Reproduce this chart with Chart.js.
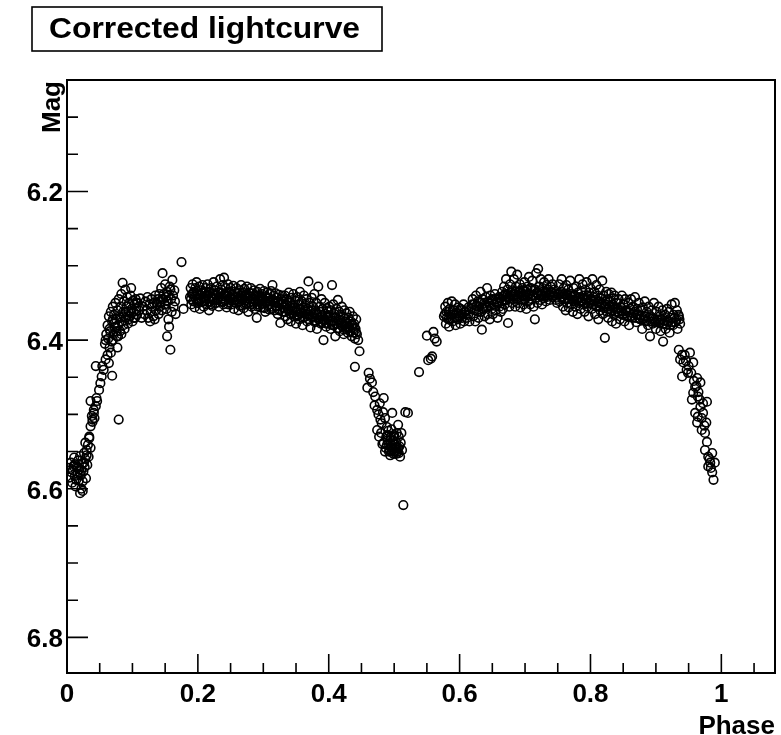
<!DOCTYPE html>
<html>
<head>
<meta charset="utf-8">
<script src="https://cdn.jsdelivr.net/npm/chart.js@4"></script>
<style>
  html, body { margin: 0; padding: 0; background: #fff; }
  canvas { display: block; }
</style>
</head>
<body>
<canvas id="lc" width="781" height="735"></canvas>
<script>
// Точки кривой блеска: [фаза, звёздная величина]
const riseStart = [[0.004,6.585],[0.006,6.565],[0.008,6.592],[0.009,6.575],[0.011,6.558],[0.012,6.583],[0.013,6.597],[0.015,6.570],[0.016,6.580],[0.017,6.562],[0.018,6.589],[0.019,6.574],[0.020,6.606],[0.020,6.556],[0.021,6.582],[0.022,6.600],[0.023,6.566],[0.024,6.590],[0.025,6.577],[0.026,6.552],[0.027,6.571],[0.028,6.560],[0.029,6.586],[0.030,6.548],[0.031,6.568],[0.032,6.541],[0.033,6.557],[0.034,6.532],[0.036,6.545],[0.024,6.603],[0.010,6.570],[0.003,6.572],[0.007,6.578],[0.014,6.588],[0.017,6.572],[0.022,6.575],[0.026,6.565],[0.012,6.567],[0.030,6.555]];
const riseSlope = [[0.028,6.538],[0.034,6.530],[0.036,6.516],[0.039,6.507],[0.041,6.498],[0.038,6.502],[0.044,6.489],[0.036,6.482],[0.046,6.482],[0.041,6.494],[0.049,6.467],[0.053,6.449],[0.044,6.435],[0.054,6.435],[0.059,6.426],[0.062,6.420],[0.067,6.417],[0.064,6.431],[0.069,6.448],[0.079,6.507],[0.056,6.440],[0.051,6.458],[0.039,6.510],[0.042,6.505],[0.045,6.478]];
const riseTop = [[0.058,6.405],[0.060,6.392],[0.062,6.380],[0.063,6.398],[0.064,6.368],[0.066,6.388],[0.067,6.362],[0.068,6.402],[0.069,6.375],[0.070,6.355],[0.071,6.392],[0.072,6.366],[0.073,6.383],[0.074,6.350],[0.075,6.372],[0.076,6.395],[0.077,6.360],[0.078,6.380],[0.079,6.345],[0.080,6.368],[0.081,6.388],[0.082,6.355],[0.083,6.338],[0.084,6.375],[0.085,6.323],[0.086,6.362],[0.087,6.348],[0.088,6.385],[0.089,6.332],[0.090,6.370],[0.091,6.355],[0.092,6.342],[0.093,6.378],[0.094,6.362],[0.095,6.350],[0.096,6.368],[0.097,6.340],[0.098,6.330],[0.099,6.358],[0.100,6.375],[0.101,6.347],[0.102,6.362],[0.103,6.352],[0.104,6.370],[0.105,6.345],[0.106,6.358],[0.107,6.366],[0.108,6.350],[0.110,6.360],[0.112,6.344],[0.114,6.370],[0.065,6.410],[0.070,6.400],[0.078,6.395],[0.059,6.400],[0.077,6.410],[0.065,6.385],[0.072,6.378],[0.075,6.388],[0.082,6.370],[0.086,6.380],[0.090,6.362],[0.094,6.372],[0.098,6.364],[0.102,6.370],[0.106,6.350],[0.110,6.355],[0.083,6.392],[0.087,6.368],[0.070,6.372]];
const shoulder = [[0.116,6.355],[0.118,6.365],[0.120,6.348],[0.122,6.360],[0.123,6.342],[0.124,6.370],[0.126,6.352],[0.128,6.362],[0.129,6.345],[0.130,6.355],[0.132,6.368],[0.133,6.350],[0.135,6.340],[0.136,6.360],[0.138,6.352],[0.139,6.345],[0.140,6.365],[0.141,6.338],[0.142,6.355],[0.143,6.348],[0.144,6.330],[0.145,6.360],[0.146,6.310],[0.147,6.345],[0.148,6.338],[0.149,6.352],[0.150,6.325],[0.151,6.342],[0.152,6.358],[0.153,6.335],[0.154,6.348],[0.155,6.372],[0.156,6.382],[0.157,6.328],[0.158,6.332],[0.158,6.413],[0.153,6.395],[0.159,6.345],[0.160,6.362],[0.161,6.319],[0.162,6.340],[0.163,6.355],[0.164,6.333],[0.165,6.348],[0.166,6.365],[0.175,6.295],[0.178,6.358],[0.127,6.375],[0.134,6.372],[0.137,6.350],[0.145,6.345],[0.150,6.352],[0.155,6.340]];
const plateauA1 = [[0.188,6.342],[0.189,6.330],[0.190,6.352],[0.191,6.338],[0.192,6.325],[0.193,6.348],[0.194,6.335],[0.195,6.356],[0.196,6.330],[0.197,6.344],[0.198,6.322],[0.199,6.350],[0.200,6.337],[0.201,6.345],[0.202,6.328],[0.203,6.358],[0.204,6.340],[0.205,6.333],[0.206,6.348],[0.207,6.326],[0.208,6.342],[0.209,6.355],[0.210,6.335],[0.211,6.346],[0.212,6.330],[0.213,6.352],[0.214,6.340],[0.215,6.325],[0.216,6.344],[0.217,6.360],[0.218,6.336],[0.219,6.348],[0.220,6.330],[0.221,6.342],[0.222,6.354],[0.223,6.337],[0.224,6.322],[0.225,6.345],[0.226,6.333],[0.227,6.350],[0.228,6.340],[0.229,6.328],[0.230,6.346],[0.231,6.336],[0.232,6.355],[0.233,6.341],[0.234,6.318],[0.235,6.348],[0.236,6.332],[0.237,6.344],[0.238,6.326],[0.239,6.352],[0.240,6.316],[0.241,6.338],[0.242,6.347],[0.243,6.330],[0.244,6.356],[0.245,6.340],[0.246,6.325],[0.247,6.349],[0.248,6.335],[0.249,6.343]];
const plateauA2 = [[0.250,6.330],[0.251,6.352],[0.252,6.339],[0.253,6.345],[0.254,6.327],[0.255,6.358],[0.256,6.342],[0.257,6.335],[0.258,6.350],[0.259,6.330],[0.260,6.346],[0.261,6.338],[0.262,6.360],[0.263,6.333],[0.264,6.348],[0.265,6.340],[0.266,6.326],[0.267,6.353],[0.268,6.344],[0.269,6.336],[0.270,6.357],[0.271,6.331],[0.272,6.347],[0.273,6.339],[0.274,6.352],[0.275,6.328],[0.276,6.344],[0.277,6.362],[0.278,6.336],[0.279,6.349],[0.280,6.341],[0.281,6.330],[0.282,6.355],[0.283,6.345],[0.284,6.337],[0.285,6.350],[0.286,6.333],[0.287,6.358],[0.288,6.342],[0.289,6.348],[0.290,6.370],[0.291,6.335],[0.292,6.352],[0.293,6.340],[0.294,6.346],[0.295,6.331],[0.296,6.356],[0.297,6.343],[0.298,6.338],[0.299,6.351],[0.300,6.345],[0.301,6.334],[0.302,6.357],[0.303,6.362],[0.304,6.341],[0.305,6.349],[0.306,6.336],[0.307,6.353],[0.308,6.344],[0.309,6.359],[0.310,6.338],[0.311,6.348],[0.312,6.334],[0.313,6.355],[0.314,6.326],[0.315,6.346],[0.316,6.340],[0.317,6.360],[0.318,6.350],[0.319,6.337],[0.320,6.355],[0.321,6.343],[0.322,6.365],[0.323,6.348],[0.324,6.339],[0.325,6.358],[0.326,6.377],[0.327,6.345],[0.328,6.352],[0.329,6.340]];
const plateauA3 = [[0.330,6.362],[0.331,6.348],[0.332,6.356],[0.333,6.340],[0.334,6.368],[0.335,6.352],[0.336,6.345],[0.337,6.372],[0.338,6.358],[0.339,6.336],[0.340,6.364],[0.341,6.350],[0.342,6.375],[0.343,6.343],[0.344,6.360],[0.345,6.353],[0.346,6.338],[0.347,6.368],[0.348,6.356],[0.349,6.347],[0.350,6.378],[0.351,6.360],[0.352,6.342],[0.353,6.366],[0.354,6.352],[0.355,6.372],[0.356,6.335],[0.357,6.358],[0.358,6.364],[0.359,6.348],[0.360,6.380],[0.361,6.356],[0.362,6.340],[0.363,6.369],[0.364,6.353],[0.365,6.362],[0.366,6.345],[0.367,6.375],[0.368,6.358],[0.369,6.321],[0.370,6.366],[0.371,6.350],[0.372,6.383],[0.373,6.360],[0.374,6.343],[0.375,6.370],[0.376,6.355],[0.377,6.364],[0.378,6.338],[0.379,6.376],[0.380,6.360],[0.381,6.350],[0.382,6.385],[0.383,6.366],[0.384,6.328],[0.385,6.372],[0.386,6.355],[0.387,6.362],[0.388,6.378],[0.389,6.345],[0.390,6.368],[0.391,6.358],[0.392,6.400],[0.393,6.374],[0.394,6.350],[0.395,6.365],[0.396,6.382],[0.397,6.357],[0.398,6.370],[0.399,6.362]];
const plateauA4 = [[0.400,6.378],[0.401,6.355],[0.402,6.368],[0.403,6.385],[0.404,6.360],[0.405,6.326],[0.406,6.374],[0.407,6.352],[0.408,6.380],[0.409,6.365],[0.410,6.395],[0.411,6.370],[0.412,6.358],[0.413,6.384],[0.414,6.346],[0.415,6.372],[0.416,6.362],[0.417,6.388],[0.418,6.366],[0.419,6.376],[0.420,6.355],[0.421,6.382],[0.422,6.368],[0.423,6.392],[0.424,6.360],[0.425,6.375],[0.426,6.385],[0.427,6.364],[0.428,6.378],[0.429,6.390],[0.430,6.370],[0.431,6.382],[0.432,6.362],[0.433,6.388],[0.434,6.375],[0.435,6.395],[0.436,6.380],[0.437,6.368],[0.438,6.390],[0.439,6.378],[0.440,6.398],[0.441,6.385],[0.442,6.372],[0.443,6.392]];
// плотное ядро плато после вторичного минимума
const plateauACore = [[0.1895,6.345],[0.1925,6.338],[0.1955,6.342],[0.1985,6.334],[0.2015,6.350],[0.2045,6.344],[0.2075,6.336],[0.2105,6.348],[0.2135,6.340],[0.2165,6.335],[0.2195,6.352],[0.2225,6.343],[0.2255,6.338],[0.2285,6.350],[0.2315,6.344],[0.2345,6.336],[0.2375,6.349],[0.2405,6.341],[0.2435,6.337],[0.2465,6.352],[0.2495,6.344],[0.2525,6.338],[0.2555,6.349],[0.2585,6.342],[0.2615,6.336],[0.2645,6.354],[0.2675,6.346],[0.2705,6.340],[0.2735,6.350],[0.2765,6.343],[0.2795,6.337],[0.2825,6.352],[0.2855,6.346],[0.2885,6.340],[0.2915,6.355],[0.2945,6.348],[0.2975,6.342],[0.3005,6.356],[0.3035,6.349],[0.3065,6.344],[0.3095,6.352],[0.3125,6.358],[0.3155,6.347],[0.3185,6.354],[0.3215,6.350],[0.3245,6.360],[0.3275,6.352],[0.3305,6.356],[0.3335,6.362],[0.3365,6.354],[0.3395,6.360],[0.3425,6.365],[0.3455,6.356],[0.3485,6.362],[0.3515,6.368],[0.3545,6.358],[0.3575,6.364],[0.3605,6.370],[0.3635,6.360],[0.3665,6.366],[0.3695,6.372],[0.3725,6.362],[0.3755,6.368],[0.3785,6.374],[0.3815,6.364],[0.3845,6.370],[0.3875,6.376],[0.3905,6.366],[0.3935,6.372],[0.3965,6.378],[0.3995,6.368],[0.4025,6.375],[0.4055,6.380],[0.4085,6.370],[0.4115,6.378],[0.4145,6.384],[0.4175,6.374],[0.4205,6.380],[0.4235,6.386],[0.4265,6.376],[0.4295,6.383],[0.4325,6.388],[0.4355,6.378],[0.4385,6.384],[0.4415,6.390]];
const primaryDip = [[0.445,6.400],[0.447,6.415],[0.440,6.436],[0.461,6.444],[0.459,6.464],[0.466,6.457],[0.471,6.476],[0.484,6.478],[0.474,6.494],[0.479,6.507],[0.497,6.498],[0.474,6.521],[0.489,6.517],[0.506,6.514],[0.468,6.470],[0.463,6.452],[0.470,6.488],[0.476,6.500],[0.478,6.485],[0.481,6.512],[0.483,6.497],[0.477,6.530],[0.480,6.525],[0.486,6.505],[0.488,6.530],[0.491,6.522],[0.484,6.538],[0.487,6.545],[0.490,6.535],[0.493,6.548],[0.495,6.530],[0.497,6.542],[0.499,6.553],[0.500,6.528],[0.502,6.545],[0.503,6.537],[0.505,6.550],[0.507,6.530],[0.508,6.543],[0.509,6.557],[0.510,6.538],[0.511,6.525],[0.492,6.540],[0.496,6.520],[0.498,6.535],[0.501,6.550],[0.504,6.525],[0.494,6.555],[0.512,6.548],[0.517,6.497],[0.521,6.498],[0.514,6.622],[0.482,6.540],[0.486,6.550],[0.506,6.545],[0.489,6.541],[0.492,6.550],[0.495,6.545],[0.498,6.548],[0.501,6.540],[0.504,6.545],[0.507,6.552],[0.490,6.528],[0.494,6.535],[0.499,6.530],[0.503,6.553],[0.496,6.550]];
const egress = [[0.538,6.443],[0.552,6.427],[0.558,6.422],[0.550,6.394],[0.560,6.389],[0.565,6.402],[0.556,6.425],[0.562,6.398]];
const plateauB1 = [[0.576,6.368],[0.578,6.355],[0.579,6.378],[0.580,6.362],[0.582,6.350],[0.583,6.372],[0.584,6.382],[0.585,6.358],[0.587,6.366],[0.588,6.348],[0.589,6.375],[0.590,6.360],[0.592,6.370],[0.593,6.352],[0.594,6.380],[0.595,6.364],[0.597,6.372],[0.598,6.356],[0.600,6.368],[0.601,6.378],[0.603,6.360],[0.604,6.370],[0.606,6.352],[0.607,6.375],[0.609,6.362],[0.611,6.370],[0.613,6.366],[0.615,6.375],[0.618,6.358],[0.620,6.345],[0.621,6.368],[0.622,6.352],[0.624,6.375],[0.625,6.340],[0.626,6.360],[0.628,6.348],[0.629,6.370],[0.630,6.355],[0.632,6.335],[0.633,6.362],[0.634,6.386],[0.635,6.345],[0.637,6.358],[0.638,6.368],[0.640,6.342],[0.641,6.355],[0.642,6.330],[0.643,6.365],[0.645,6.350],[0.646,6.372],[0.647,6.340],[0.649,6.358],[0.650,6.345],[0.651,6.365],[0.653,6.352],[0.654,6.338],[0.655,6.360],[0.657,6.348],[0.658,6.370],[0.660,6.342],[0.661,6.355],[0.663,6.362]];
const plateauB2 = [[0.664,6.348],[0.665,6.335],[0.666,6.358],[0.667,6.342],[0.668,6.328],[0.669,6.352],[0.670,6.338],[0.671,6.318],[0.672,6.346],[0.673,6.332],[0.674,6.377],[0.675,6.342],[0.676,6.355],[0.677,6.325],[0.678,6.340],[0.679,6.308],[0.680,6.350],[0.681,6.333],[0.682,6.345],[0.683,6.318],[0.684,6.338],[0.685,6.355],[0.686,6.328],[0.687,6.344],[0.688,6.312],[0.689,6.350],[0.690,6.335],[0.691,6.342],[0.692,6.325],[0.693,6.356],[0.694,6.338],[0.695,6.346],[0.696,6.330],[0.697,6.340],[0.698,6.352],[0.699,6.322],[0.700,6.345],[0.701,6.335],[0.702,6.358],[0.703,6.340],[0.704,6.328],[0.705,6.348],[0.706,6.315],[0.707,6.338],[0.708,6.352],[0.709,6.330],[0.710,6.345],[0.711,6.320],[0.712,6.340],[0.713,6.355],[0.714,6.332],[0.715,6.372],[0.716,6.343],[0.717,6.310],[0.718,6.336],[0.719,6.350],[0.720,6.304],[0.721,6.340],[0.722,6.328],[0.723,6.346],[0.724,6.318],[0.725,6.338],[0.726,6.352],[0.727,6.330],[0.728,6.344],[0.729,6.322],[0.730,6.340],[0.731,6.335],[0.732,6.348],[0.733,6.326],[0.734,6.342],[0.735,6.332],[0.736,6.318],[0.737,6.338],[0.738,6.346],[0.739,6.328],[0.740,6.335],[0.742,6.325],[0.744,6.340],[0.745,6.332],[0.747,6.346],[0.749,6.350],[0.750,6.338]];
const plateauB3 = [[0.752,6.325],[0.753,6.348],[0.755,6.335],[0.756,6.318],[0.757,6.342],[0.758,6.355],[0.759,6.330],[0.760,6.345],[0.761,6.338],[0.762,6.360],[0.763,6.326],[0.764,6.350],[0.765,6.340],[0.766,6.332],[0.767,6.356],[0.768,6.345],[0.769,6.320],[0.770,6.338],[0.771,6.352],[0.772,6.342],[0.773,6.362],[0.774,6.330],[0.775,6.348],[0.776,6.340],[0.777,6.355],[0.778,6.328],[0.779,6.345],[0.780,6.365],[0.781,6.336],[0.782,6.350],[0.783,6.318],[0.784,6.342],[0.785,6.358],[0.786,6.334],[0.787,6.348],[0.788,6.325],[0.789,6.352],[0.790,6.340],[0.791,6.362],[0.792,6.332],[0.793,6.346],[0.794,6.322],[0.795,6.355],[0.796,6.340],[0.797,6.368],[0.798,6.336],[0.799,6.350],[0.800,6.330],[0.801,6.345],[0.802,6.358],[0.803,6.318],[0.804,6.342],[0.805,6.352],[0.806,6.335],[0.807,6.365],[0.808,6.346],[0.809,6.326],[0.810,6.355],[0.811,6.340],[0.812,6.372],[0.813,6.348],[0.814,6.332],[0.815,6.360],[0.816,6.344],[0.817,6.352],[0.818,6.320],[0.819,6.365],[0.820,6.340],[0.821,6.355],[0.822,6.397],[0.823,6.348],[0.824,6.335],[0.825,6.362],[0.826,6.345],[0.827,6.370],[0.828,6.338],[0.829,6.355],[0.830,6.348],[0.831,6.362],[0.832,6.336],[0.833,6.375],[0.834,6.352],[0.835,6.344],[0.836,6.366],[0.837,6.340],[0.838,6.358],[0.839,6.378],[0.840,6.350]];
const plateauB4 = [[0.842,6.362],[0.843,6.345],[0.845,6.372],[0.846,6.356],[0.848,6.340],[0.849,6.366],[0.850,6.352],[0.852,6.375],[0.853,6.345],[0.855,6.360],[0.856,6.368],[0.858,6.350],[0.859,6.380],[0.861,6.358],[0.862,6.345],[0.864,6.370],[0.865,6.355],[0.867,6.362],[0.868,6.342],[0.870,6.376],[0.871,6.358],[0.873,6.366],[0.874,6.350],[0.876,6.372],[0.877,6.360],[0.879,6.385],[0.880,6.356],[0.882,6.368],[0.883,6.348],[0.885,6.375],[0.886,6.362],[0.888,6.380],[0.889,6.355],[0.891,6.395],[0.892,6.368],[0.894,6.360],[0.895,6.378],[0.897,6.350],[0.898,6.372],[0.900,6.385],[0.901,6.362],[0.903,6.376],[0.904,6.355],[0.906,6.368],[0.907,6.388],[0.909,6.372],[0.910,6.360],[0.911,6.402],[0.912,6.378],[0.914,6.366],[0.915,6.385],[0.917,6.358],[0.918,6.375],[0.920,6.362],[0.921,6.390],[0.923,6.370],[0.924,6.352],[0.926,6.380],[0.927,6.366],[0.929,6.350],[0.930,6.376],[0.932,6.360],[0.933,6.385],[0.935,6.368],[0.936,6.372],[0.937,6.378]];
// плотное ядро плато перед главным минимумом
const plateauBCore = [[0.5775,6.365],[0.5805,6.370],[0.5835,6.362],[0.5865,6.372],[0.5895,6.366],[0.5925,6.360],[0.5955,6.370],[0.5985,6.364],[0.6015,6.358],[0.6045,6.366],[0.6075,6.362],[0.6105,6.360],[0.6135,6.356],[0.6195,6.352],[0.6225,6.360],[0.6255,6.354],[0.6285,6.362],[0.6315,6.350],[0.6345,6.357],[0.6375,6.350],[0.6405,6.356],[0.6435,6.348],[0.6465,6.354],[0.6495,6.346],[0.6525,6.352],[0.6555,6.345],[0.6585,6.350],[0.6615,6.344],[0.6645,6.348],[0.6675,6.340],[0.6705,6.346],[0.6735,6.338],[0.6765,6.344],[0.6795,6.336],[0.6825,6.342],[0.6855,6.335],[0.6885,6.341],[0.6915,6.334],[0.6945,6.340],[0.6975,6.333],[0.7005,6.339],[0.7035,6.332],[0.7065,6.338],[0.7095,6.333],[0.7125,6.339],[0.7155,6.332],[0.7185,6.338],[0.7215,6.334],[0.7245,6.340],[0.7275,6.335],[0.7305,6.341],[0.7335,6.336],[0.7365,6.340],[0.7395,6.335],[0.7425,6.342],[0.7455,6.337],[0.7485,6.343],[0.7515,6.338],[0.7545,6.342],[0.7575,6.338],[0.7605,6.344],[0.7635,6.339],[0.7665,6.345],[0.7695,6.340],[0.7725,6.346],[0.7755,6.341],[0.7785,6.347],[0.7815,6.343],[0.7845,6.348],[0.7875,6.344],[0.7905,6.350],[0.7935,6.345],[0.7965,6.351],[0.7995,6.346],[0.8025,6.352],[0.8055,6.348],[0.8085,6.354],[0.8115,6.349],[0.8145,6.355],[0.8175,6.351],[0.8205,6.357],[0.8235,6.352],[0.8265,6.358],[0.8295,6.354],[0.8325,6.360],[0.8355,6.356],[0.8385,6.362],[0.8415,6.358],[0.8445,6.364],[0.8475,6.360],[0.8505,6.365],[0.8535,6.361],[0.8565,6.367],[0.8595,6.363],[0.8625,6.368],[0.8655,6.364],[0.8685,6.370],[0.8715,6.366],[0.8745,6.371],[0.8775,6.367],[0.8805,6.372],[0.8835,6.368],[0.8865,6.374],[0.8895,6.370],[0.8925,6.375],[0.8955,6.371],[0.8985,6.376],[0.9015,6.372],[0.9045,6.377],[0.9075,6.373],[0.9105,6.378],[0.9135,6.374],[0.9165,6.379],[0.9195,6.375],[0.9225,6.380],[0.9255,6.376],[0.9285,6.370],[0.9315,6.372],[0.9345,6.366]];
const fallEnd = [[0.935,6.413],[0.944,6.420],[0.952,6.417],[0.942,6.430],[0.957,6.430],[0.940,6.449],[0.949,6.444],[0.963,6.451],[0.968,6.457],[0.957,6.471],[0.964,6.476],[0.955,6.480],[0.978,6.483],[0.968,6.490],[0.960,6.498],[0.972,6.498],[0.963,6.511],[0.970,6.521],[0.978,6.537],[0.975,6.548],[0.986,6.552],[0.983,6.565],[0.990,6.565],[0.980,6.570],[0.988,6.588],[0.937,6.426],[0.947,6.440],[0.960,6.463],[0.972,6.485],[0.964,6.503],[0.975,6.525],[0.980,6.557],[0.977,6.511],[0.940,6.420],[0.946,6.428],[0.950,6.435],[0.954,6.444],[0.958,6.455],[0.962,6.462],[0.965,6.470],[0.967,6.480],[0.970,6.505],[0.974,6.515],[0.982,6.560],[0.984,6.572],[0.986,6.578]];

// Деления осей
const xMajor = [0, 0.2, 0.4, 0.6, 0.8, 1];
const xLabels = ['0', '0.2', '0.4', '0.6', '0.8', '1'];
const xMinor = [0.05, 0.1, 0.15, 0.25, 0.3, 0.35, 0.45, 0.5, 0.55, 0.65, 0.7, 0.75, 0.85, 0.9, 0.95, 1.05];
const yMajor = [6.2, 6.4, 6.6, 6.8];
const yLabels = ['6.2', '6.4', '6.6', '6.8'];
const yMinor = [6.1, 6.15, 6.25, 6.3, 6.35, 6.45, 6.5, 6.55, 6.65, 6.7, 6.75];

const allPoints = [].concat(riseStart, riseSlope, riseTop, shoulder,
    plateauA1, plateauA2, plateauA3, plateauA4, plateauACore, primaryDip, egress,
    plateauB1, plateauB2, plateauB3, plateauB4, plateauBCore, fallEnd)
    .map(p => ({ x: p[0], y: p[1] }));

const FONT = 'bold 26px "Liberation Sans", Arial, sans-serif';

// Рамка, засечки внутрь, подписи в стиле ROOT
const rootFrame = {
    id: 'rootFrame',
    afterDraw(chart) {
        const { ctx, chartArea: a } = chart;
        const xs = chart.scales.x, ys = chart.scales.y;
        ctx.save();
        ctx.strokeStyle = '#000';
        ctx.lineWidth = 2;
        ctx.strokeRect(a.left, a.top, a.right - a.left, a.bottom - a.top);

        ctx.lineWidth = 1.6;
        ctx.beginPath();
        xMajor.forEach(v => { const p = xs.getPixelForValue(v); ctx.moveTo(p, a.bottom); ctx.lineTo(p, a.bottom - 19); });
        xMinor.forEach(v => { const p = xs.getPixelForValue(v); ctx.moveTo(p, a.bottom); ctx.lineTo(p, a.bottom - 10); });
        yMajor.forEach(v => { const p = ys.getPixelForValue(v); ctx.moveTo(a.left, p); ctx.lineTo(a.left + 21, p); });
        yMinor.forEach(v => { const p = ys.getPixelForValue(v); ctx.moveTo(a.left, p); ctx.lineTo(a.left + 11, p); });
        ctx.stroke();

        ctx.fillStyle = '#000';
        ctx.font = FONT;
        ctx.textAlign = 'center';
        ctx.textBaseline = 'alphabetic';
        xMajor.forEach((v, i) => ctx.fillText(xLabels[i], xs.getPixelForValue(v), a.bottom + 29));
        ctx.textAlign = 'right';
        yMajor.forEach((v, i) => ctx.fillText(yLabels[i], a.left - 4, ys.getPixelForValue(v) + 10));

        // подписи осей
        ctx.fillText('Phase', a.right, 734);
        ctx.save();
        ctx.translate(60, a.top + 1);
        ctx.rotate(-Math.PI / 2);
        ctx.textAlign = 'right';
        ctx.fillText('Mag', 0, 0);
        ctx.restore();

        // заголовок в рамке
        ctx.lineWidth = 1.6;
        ctx.strokeRect(32, 7, 350, 44);
        ctx.font = 'bold 29px "Liberation Sans", Arial, sans-serif';
        ctx.textAlign = 'left';
        const title = 'Corrected lightcurve';
        const w = ctx.measureText(title).width;
        ctx.translate(49, 38);
        ctx.scale(311 / w, 1);
        ctx.fillText(title, 0, 0);
        ctx.restore();
    }
};

new Chart(document.getElementById('lc').getContext('2d'), {
    type: 'scatter',
    data: {
        datasets: [{
            label: 'Mag',
            data: allPoints,
            pointStyle: 'circle',
            pointRadius: 4.3,
            pointBorderWidth: 1.6,
            borderColor: '#000',
            backgroundColor: 'rgba(0,0,0,0)',
            pointBackgroundColor: 'rgba(0,0,0,0)'
        }]
    },
    options: {
        responsive: false,
        animation: false,
        devicePixelRatio: 1,
        layout: { padding: { left: 67, top: 80, right: 6, bottom: 62 } },
        plugins: { legend: { display: false }, tooltip: { enabled: false } },
        scales: {
            x: { type: 'linear', min: 0, max: 1.082, display: false },
            y: { type: 'linear', reverse: true, min: 6.05, max: 6.848, display: false }
        }
    },
    plugins: [rootFrame]
});
</script>
</body>
</html>
